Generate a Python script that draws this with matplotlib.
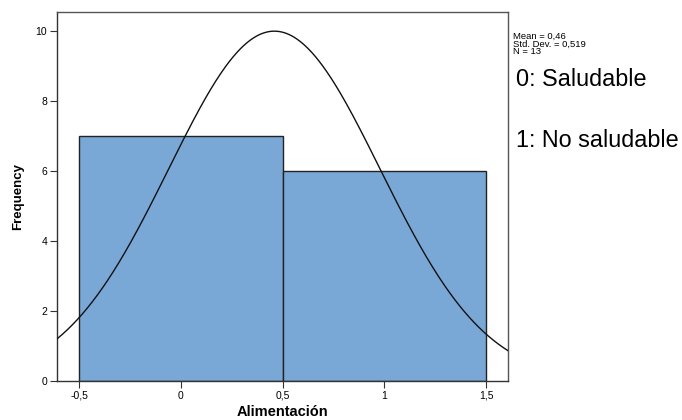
import numpy as np
import matplotlib
matplotlib.use("Agg")
import matplotlib.pyplot as plt

plt.rcParams['font.family'] = ['Liberation Sans', 'DejaVu Sans']

bin_edges = [-0.5, 0.5, 1.5]
counts = [7, 6]
mean = 0.46
std = 0.519
n = 13
xticks = [-0.5, 0, 0.5, 1, 1.5]
xticklabels = ['-0,5', '0', '0,5', '1', '1,5']
yticks = [0, 2, 4, 6, 8, 10]
stats_lines = ['Mean = 0,46', 'Std. Dev. = 0,519', 'N = 13']
legend_lines = ['0: Saludable', '1: No saludable']

fig = plt.figure(figsize=(6.82, 4.2), dpi=100)
ax = fig.add_axes([57/682, 1-381/420, (508-57)/682, (381-12)/420])

lefts = bin_edges[:-1]
widths = np.diff(bin_edges)
ax.bar(lefts, counts, width=widths, align='edge', color='#7AA8D6',
       edgecolor='#222222', linewidth=1.0, zorder=2)

xs = np.linspace(-0.7, 1.7, 400)
bw = widths[0]
ys = n * bw / (std * np.sqrt(2*np.pi)) * np.exp(-0.5*((xs-mean)/std)**2)
ax.plot(xs, ys, color='#111111', linewidth=1.0, zorder=3)

ax.set_xlim(-0.608, 1.608)
ax.set_ylim(0, 10.54)
ax.set_xticks(xticks)
ax.set_xticklabels(xticklabels)
ax.set_yticks(yticks)
ax.tick_params(axis='both', labelsize=7.5, length=5, width=0.8, color='#333333', pad=2)
for s in ax.spines.values():
    s.set_color('#555555')
    s.set_linewidth(1.0)
ax.spines['left'].set_color('#333333')
ax.spines['bottom'].set_color('#333333')

ax.set_xlabel('Alimentación', fontsize=10.5, fontweight='bold', labelpad=3)
ax.set_ylabel('Frequency', fontsize=9.5, fontweight='bold', labelpad=8)

for i, line in enumerate(stats_lines):
    fig.text(513/682, 1-(36.5+7.5*i)/420, line, fontsize=6.8, va='center', ha='left')
fig.text(516/682, 1-80/420, legend_lines[0], fontsize=16.8, va='center', ha='left')
fig.text(516/682, 1-141/420, legend_lines[1], fontsize=16.8, va='center', ha='left')

fig.savefig('out.png', dpi=100)
